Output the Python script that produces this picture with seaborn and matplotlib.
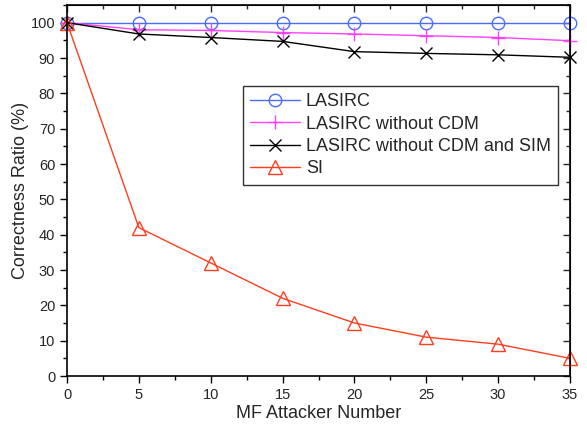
import pandas as pd
import matplotlib.pyplot as plt
import seaborn as sns
from matplotlib.ticker import MultipleLocator

# data
attackers = [0, 5, 10, 15, 20, 25, 30, 35]
lasirc = [100, 100, 100, 100, 100, 100, 100, 100]
lasirc_no_cdm = [100, 98, 97.8, 97.2, 96.8, 96.3, 95.8, 94.9]
lasirc_no_cdm_sim = [100, 96.8, 95.8, 94.7, 91.8, 91.3, 90.9, 90.2]
si = [100, 42, 32, 22, 15, 11, 9, 5]

series = [
    ("LASIRC", lasirc, "o", "#4a6cff", 9),
    ("LASIRC without CDM", lasirc_no_cdm, "+", "#ff40ff", 10),
    ("LASIRC without CDM and SIM", lasirc_no_cdm_sim, "x", "black", 9),
    ("SI", si, "^", "#ff3c1e", 10),
]

sns.set_style("white")
plt.rcParams['font.family'] = ['Liberation Sans', 'DejaVu Sans']

fig = plt.figure(figsize=(5.87, 4.25), dpi=100)
ax = fig.add_axes([67 / 587, 1 - 376 / 425, 503 / 587, 371 / 425])

for name, values, marker, color, ms in series:
    df = pd.DataFrame({"x": attackers, "y": values})
    sns.lineplot(data=df, x="x", y="y", ax=ax, label=name, color=color,
                 marker=marker, markersize=ms, markerfacecolor="none",
                 markeredgecolor=color, markeredgewidth=1.0, linewidth=1.0,
                 clip_on=False)

ax.set_xlim(0, 35)
ax.set_ylim(0, 105)
ax.xaxis.set_major_locator(MultipleLocator(5))
ax.xaxis.set_minor_locator(MultipleLocator(2.5))
ax.yaxis.set_major_locator(MultipleLocator(10))
ax.yaxis.set_minor_locator(MultipleLocator(5))
ax.tick_params(which="both", direction="out", labelsize=10.5, width=1, color="black",
               bottom=True, left=True, top=False, right=False)
ax.tick_params(which="major", length=5)
ax.tick_params(which="minor", length=3)

# mirrored inward ticks on top and right
top = ax.secondary_xaxis("top")
top.xaxis.set_major_locator(MultipleLocator(5))
top.xaxis.set_minor_locator(MultipleLocator(2.5))
top.tick_params(which="both", direction="in", labeltop=False, width=1)
top.tick_params(which="major", length=5)
top.tick_params(which="minor", length=3)
right = ax.secondary_yaxis("right")
right.yaxis.set_major_locator(MultipleLocator(10))
right.yaxis.set_minor_locator(MultipleLocator(5))
right.tick_params(which="both", direction="in", labelright=False, width=1)
right.tick_params(which="major", length=5)
right.tick_params(which="minor", length=3)

for s in ax.spines.values():
    s.set_color("black")
    s.set_linewidth(1.2)

ax.set_xlabel("MF Attacker Number", fontsize=13, labelpad=2)
ax.set_ylabel("Correctness Ratio (%)", fontsize=13, labelpad=1)

leg = ax.legend(loc="upper right", bbox_to_anchor=(0.976, 0.782), fontsize=13,
                frameon=True, fancybox=False, edgecolor="black", handlelength=2.8,
                borderpad=0.4, labelspacing=0.3, handletextpad=0.3, borderaxespad=0)
leg.get_frame().set_linewidth(1.0)

fig.savefig("out.png", dpi=100)
